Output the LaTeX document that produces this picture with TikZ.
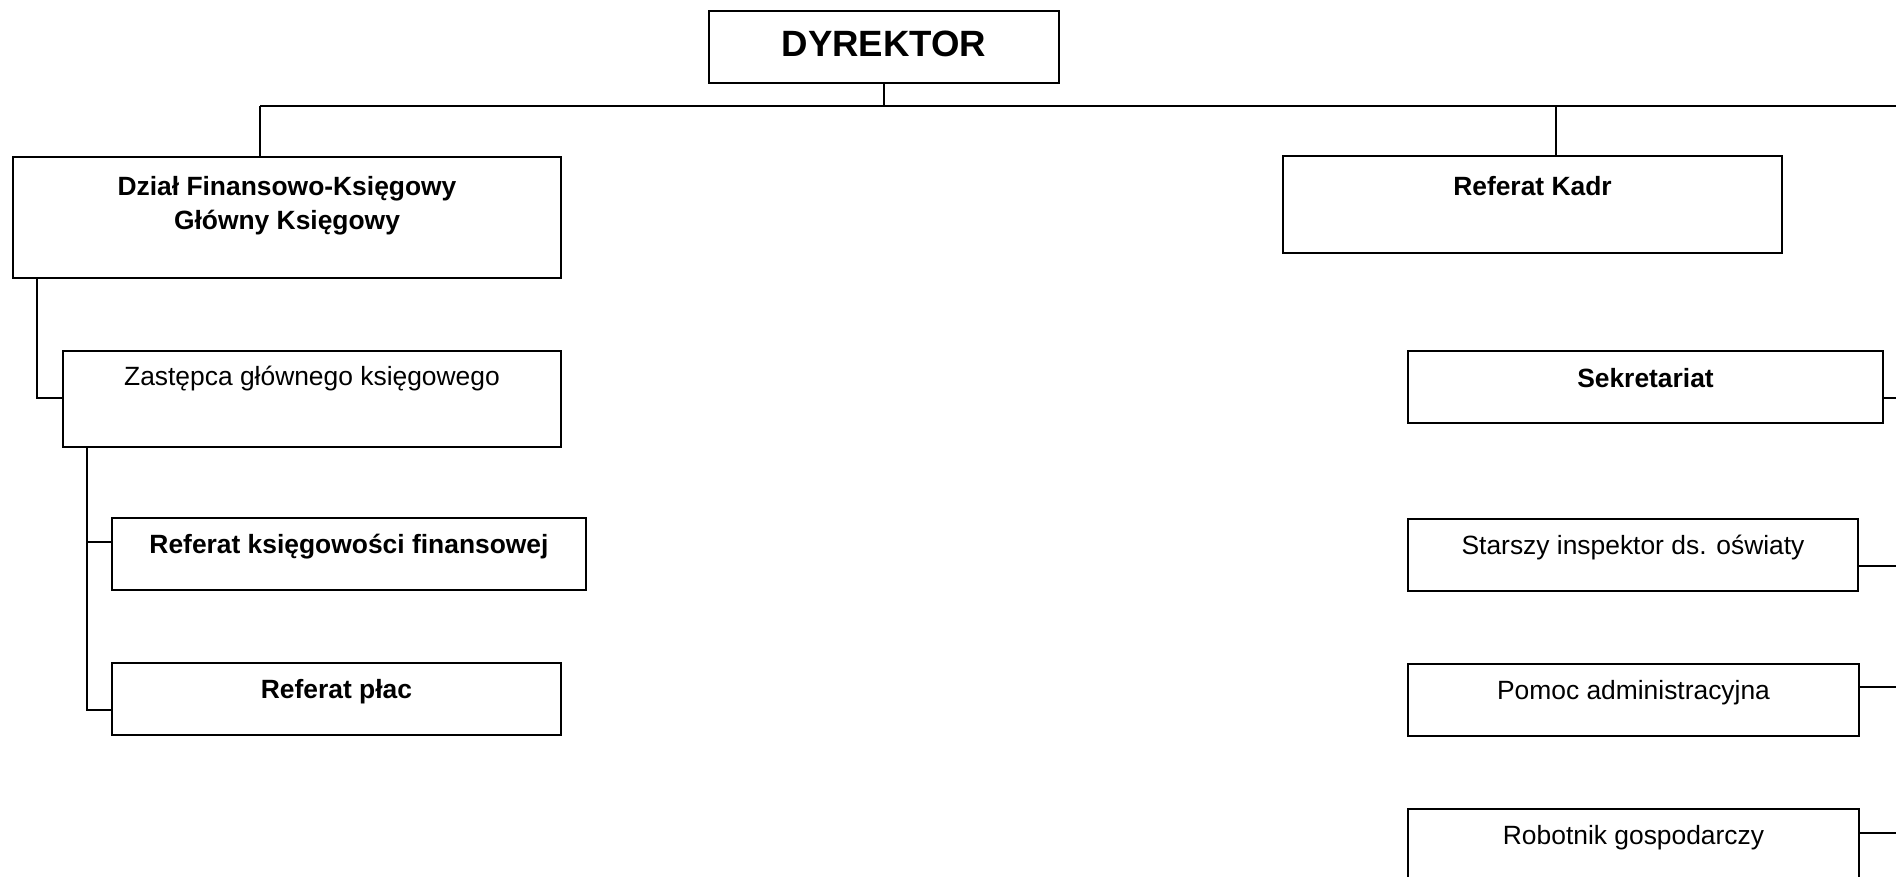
\documentclass[tikz,border=0pt]{standalone}
\usepackage{fontspec}
\setmainfont{Liberation Sans}
\usetikzlibrary{calc}
\begin{document}
\begin{tikzpicture}[x=0.5pt,y=-0.5pt,
  box/.style={draw, line width=1.2pt, inner sep=0pt, outer sep=0pt, anchor=north west},
  conn/.style={draw, line width=1pt},
  txt/.style={anchor=base, inner sep=0pt, font=\fontsize{13.2pt}{16pt}\selectfont},
  btxt/.style={anchor=base, inner sep=0pt, font=\fontsize{13.2pt}{16pt}\selectfont\bfseries},
  bigtxt/.style={anchor=base, inner sep=0pt, font=\fontsize{18.3pt}{22pt}\selectfont\bfseries}]
\useasboundingbox (0,0) rectangle (1896,877);

% boxes
\node[box, minimum width=175pt, minimum height=36pt] (dyr) at (709,11) {};
\node[box, minimum width=274pt, minimum height=60.5pt] (dzial) at (13,157) {};
\node[box, minimum width=249.5pt, minimum height=48.5pt] (kadr) at (1283,156) {};
\node[box, minimum width=249pt, minimum height=48pt] (zast) at (63,351) {};
\node[box, minimum width=237pt, minimum height=36pt] (rkf) at (112,518) {};
\node[box, minimum width=224.5pt, minimum height=36pt] (rpl) at (112,663) {};
\node[box, minimum width=237.5pt, minimum height=36pt] (sekr) at (1408,351) {};
\node[box, minimum width=225pt, minimum height=36pt] (star) at (1408,519) {};
\node[box, minimum width=225.5pt, minimum height=36pt] (pomoc) at (1408,664) {};
\node[box, minimum width=225.5pt, minimum height=40pt] (robot) at (1408,809) {};

% texts
\node[bigtxt] (dyr-t) at ($(dyr.north)+(0,46)$) {DYREKTOR};
\node[btxt] (dzial-t1) at ($(dzial.north)+(0,39)$) {Dział Finansowo-Księgowy};
\node[btxt] (dzial-t2) at ($(dzial.north)+(0,73)$) {Główny Księgowy};
\node[btxt] (kadr-t) at ($(kadr.north)+(0,40)$) {Referat Kadr};
\node[txt] (zast-t) at ($(zast.north)+(0,35)$) {Zastępca głównego księgowego};
\node[btxt] (rkf-t) at ($(rkf.north)+(0,35)$) {Referat księgowości finansowej};
\node[btxt] (rpl-t) at ($(rpl.north)+(0,35)$) {Referat płac};
\node[btxt] (sekr-t) at ($(sekr.north)+(0,36)$) {Sekretariat};
\node[txt] (star-t) at ($(star.north)+(0,35)$) {Starszy inspektor ds. oświaty};
\node[txt] (pomoc-t) at ($(pomoc.north)+(0,35)$) {Pomoc administracyjna};
\node[txt] (robot-t) at ($(robot.north)+(0,35)$) {Robotnik gospodarczy};

% connector points
\coordinate (bus) at (884,106);
\coordinate (busR) at (1896,106);
\coordinate (dzialIn) at (260,106);
\coordinate (kadrIn) at (1556,106);
\coordinate (zastIn) at (37,398);
\coordinate (rkfIn) at (87,542);
\coordinate (rplIn) at (87,710);
\coordinate (sekrOut) at (1896,398);
\coordinate (starOut) at (1896,566);
\coordinate (pomocOut) at (1896,687);
\coordinate (robotOut) at (1896,833);

% connectors
\draw[conn] (dyr.south) -- (dyr.south |- bus);
\draw[conn] (dzialIn) -- (busR);
\draw[conn] (dzialIn) -- (dzialIn |- dzial.north);
\draw[conn] (kadrIn) -- (kadrIn |- kadr.north);
\draw[conn] (zastIn |- dzial.south) -- (zastIn) -- (zastIn -| zast.west);
\draw[conn] (rplIn |- zast.south) -- (rplIn) -- (rplIn -| rpl.west);
\draw[conn] (rkfIn) -- (rkfIn -| rkf.west);
\draw[conn] (sekrOut -| sekr.east) -- (sekrOut);
\draw[conn] (starOut -| star.east) -- (starOut);
\draw[conn] (pomocOut -| pomoc.east) -- (pomocOut);
\draw[conn] (robotOut -| robot.east) -- (robotOut);
\end{tikzpicture}
\end{document}
